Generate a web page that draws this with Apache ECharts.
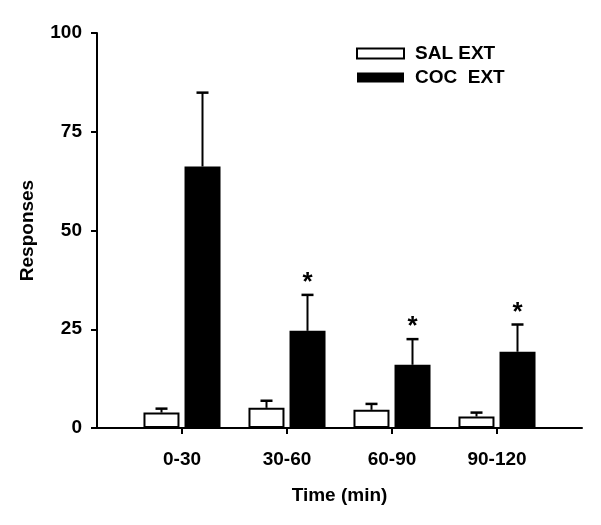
<!DOCTYPE html>
<html>
<head>
<meta charset="utf-8">
<script src="https://cdn.jsdelivr.net/npm/echarts@6/dist/echarts.min.js"></script>
<style>html,body{margin:0;padding:0;background:#fff}#c{width:601px;height:525px}</style>
</head>
<body>
<div id="c"></div>
<script>
var categories = ['0-30', '30-60', '60-90', '90-120'];
var salMean = [3.9, 5.1, 4.6, 2.9];
var salSem = [1.0, 1.8, 1.5, 1.0];
var cocMean = [66.2, 24.6, 16.0, 19.3];
var cocSem = [18.7, 9.1, 6.5, 6.9];
var significant = [false, true, true, true];
var yTicks = [0, 25, 50, 75, 100];

var FONT = 'Liberation Sans, Arial, sans-serif';
var chart = echarts.init(document.getElementById('c'));

function errSeries(name, means, sems, offset, stars) {
  return {
    type: 'custom', name: name + ' err', xAxisIndex: 1, yAxisIndex: 1, z: 5,
    data: means.map(function (m, i) { return [i, m, m + sems[i], stars && stars[i] ? 1 : 0]; }),
    renderItem: function (params, api) {
      var base = api.coord([api.value(0), api.value(1)]);
      var top = api.coord([api.value(0), api.value(2)]);
      var x = base[0] + offset;
      var children = [
        { type: 'line', shape: { x1: x, y1: base[1], x2: x, y2: top[1] }, style: { stroke: '#000', lineWidth: 2 } },
        { type: 'line', shape: { x1: x - 6, y1: top[1], x2: x + 6, y2: top[1] }, style: { stroke: '#000', lineWidth: 2.5 } }
      ];
      if (api.value(3)) {
        children.push({ type: 'text', style: { x: x, y: top[1] + 1, text: '*', fill: '#000',
          font: 'bold 26px ' + FONT, align: 'center', verticalAlign: 'bottom' } });
      }
      return { type: 'group', children: children };
    }
  };
}

chart.setOption({
  backgroundColor: '#fff',
  animation: false,
  grid: [
    { left: 97, right: 19, top: 33, bottom: 97 },
    { left: 129.5, width: 420, top: 33, bottom: 97 }
  ],
  legend: {
    orient: 'vertical', left: 356, top: 44, padding: 0, itemWidth: 47, itemHeight: 10, itemGap: 5,
    icon: 'rect',
    data: ['SAL EXT', 'COC  EXT'],
    textStyle: { fontFamily: FONT, fontWeight: 'bold', fontSize: 19, color: '#000', padding: [0, 0, 0, 6] }
  },
  xAxis: [
    { gridIndex: 0, type: 'value', min: 0, max: 1, axisLine: { lineStyle: { color: '#000', width: 2 } },
      axisTick: { show: false }, axisLabel: { show: false }, splitLine: { show: false },
      name: 'Time (min)', nameLocation: 'middle', nameGap: 58,
      nameTextStyle: { fontFamily: FONT, fontWeight: 'bold', fontSize: 19, color: '#000' } },
    { gridIndex: 1, type: 'category', data: categories, boundaryGap: true,
      axisLine: { show: false },
      axisTick: { show: true, alignWithLabel: true, length: 6, lineStyle: { color: '#000', width: 2 } },
      axisLabel: { margin: 22, fontFamily: FONT, fontWeight: 'bold', fontSize: 19, color: '#000' } }
  ],
  yAxis: [
    { gridIndex: 0, type: 'value', min: 0, max: 100, interval: 25,
      axisLine: { show: true, lineStyle: { color: '#000', width: 2 } },
      axisTick: { show: true, length: 6, lineStyle: { color: '#000', width: 2 } },
      axisLabel: { margin: 15, fontFamily: FONT, fontWeight: 'bold', fontSize: 19, color: '#000',
        formatter: function (v) { return yTicks.indexOf(v) >= 0 ? String(v) : ''; } },
      splitLine: { show: false },
      name: 'Responses', nameLocation: 'middle', nameGap: 60,
      nameTextStyle: { fontFamily: FONT, fontWeight: 'bold', fontSize: 19, color: '#000' } },
    { gridIndex: 1, type: 'value', min: 0, max: 100, interval: 25, show: false }
  ],
  series: [
    { type: 'bar', name: 'SAL EXT', xAxisIndex: 1, yAxisIndex: 1, data: salMean, barWidth: 36, barGap: '14%',
      itemStyle: { color: '#fff', borderColor: '#000', borderWidth: 2 } },
    { type: 'bar', name: 'COC  EXT', xAxisIndex: 1, yAxisIndex: 1, data: cocMean, barWidth: 36, barGap: '14%',
      itemStyle: { color: '#000', borderColor: '#000', borderWidth: 0 } },
    errSeries('SAL', salMean, salSem, -20.5, null),
    errSeries('COC', cocMean, cocSem, 20.5, significant)
  ]
});
</script>
</body>
</html>
